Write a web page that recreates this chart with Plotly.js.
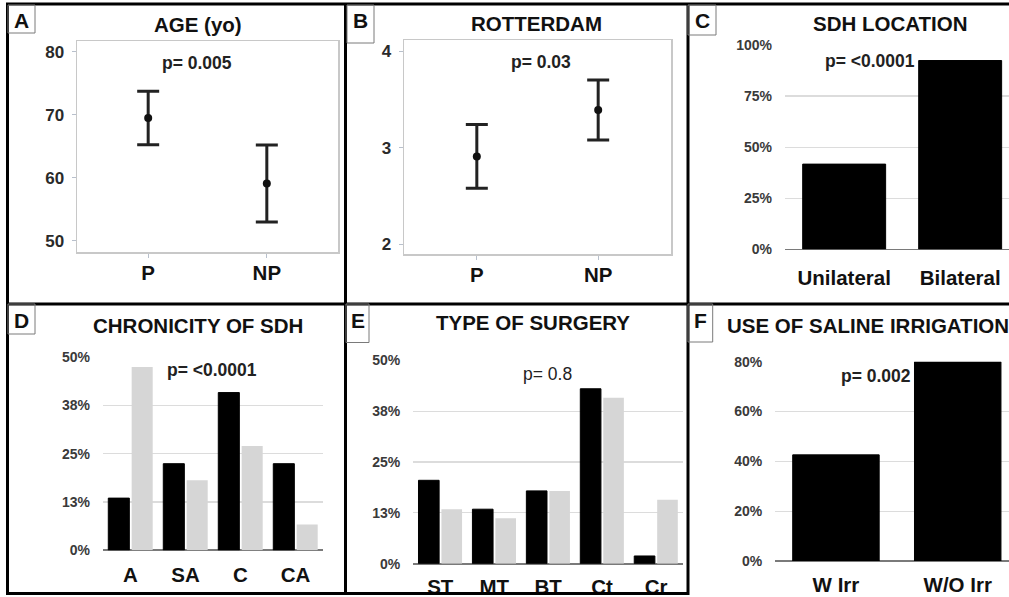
<!DOCTYPE html>
<html>
<head>
<meta charset="utf-8">
<script src="https://cdn.plot.ly/plotly-3.0.1.min.js"></script>
<style>html,body{margin:0;padding:0;background:#fff;}#chart{width:1009px;height:597px;}</style>
</head>
<body>
<div id="chart"></div>
<script>
// ---------- data ----------
const ageCats = ['P', 'NP'];
const ageMean = [69.5, 59.1];
const ageErr = [4.25, 6.1];

const rotCats = ['P', 'NP'];
const rotMean = [2.91, 3.39];
const rotErr = [0.33, 0.31];

const locCats = ['Unilateral', 'Bilateral'];
const locPct = [0.417, 0.924];

const chronCats = ['A', 'SA', 'C', 'CA'];
const chronP = [0.135, 0.224, 0.408, 0.224];
const chronNP = [0.474, 0.181, 0.270, 0.067];

const surgCats = ['ST', 'MT', 'BT', 'Ct', 'Cr'];
const surgP = [0.205, 0.134, 0.179, 0.430, 0.019];
const surgNP = [0.134, 0.112, 0.179, 0.408, 0.157];

const irrCats = ['W Irr', 'W/O Irr'];
const irrPct = [0.426, 0.800];

const pct4Vals = [0, 0.25, 0.5, 0.75, 1.0];
const pct4Text = ['0%', '25%', '50%', '75%', '100%'];
const pct8Vals = [0, 0.125, 0.25, 0.375, 0.5];
const pct8Text = ['0%', '13%', '25%', '38%', '50%'];
const pct20Vals = [0, 0.2, 0.4, 0.6, 0.8];
const pct20Text = ['0%', '20%', '40%', '60%', '80%'];

const panelTitles = ['AGE (yo)', 'ROTTERDAM', 'SDH LOCATION', 'CHRONICITY OF SDH', 'TYPE OF SURGERY', 'USE OF SALINE IRRIGATION'];
const panelLetters = ['A', 'B', 'C', 'D', 'E', 'F'];
const pTexts = ['p= 0.005', 'p= 0.03', 'p= <0.0001', 'p= <0.0001', 'p= 0.8', 'p= 0.002'];

// ---------- geometry helpers (pixel -> paper) ----------
const W = 1009, H = 597;
const px = v => v / W;
const py = v => 1 - v / H;
const dx = (a, b) => [px(a), Math.min(1, px(b))];
const dy = (top, bot) => [py(bot), py(top)];

const FONT = 'Liberation Sans, Arial, Helvetica, sans-serif';
const BLACK = '#000000';
const GREY = '#d6d6d6';

const traces = [
  { type: 'scatter', mode: 'markers', x: ageCats, y: ageMean, xaxis: 'x', yaxis: 'y',
    marker: { color: '#111', size: 8 },
    error_y: { type: 'data', array: ageErr, visible: true, color: '#222', thickness: 3, width: 11 } },
  { type: 'scatter', mode: 'markers', x: rotCats, y: rotMean, xaxis: 'x2', yaxis: 'y2',
    marker: { color: '#111', size: 8 },
    error_y: { type: 'data', array: rotErr, visible: true, color: '#222', thickness: 3, width: 11 } },
  { type: 'bar', x: locCats, y: locPct, xaxis: 'x3', yaxis: 'y3', width: 0.715,
    marker: { color: BLACK, line: { color: '#000', width: 1 } } },
  { type: 'bar', x: chronCats, y: chronP, xaxis: 'x4', yaxis: 'y4',
    marker: { color: BLACK, line: { color: '#000', width: 1 } } },
  { type: 'bar', x: chronCats, y: chronNP, xaxis: 'x4', yaxis: 'y4',
    marker: { color: GREY, line: { width: 0 } } },
  { type: 'bar', x: surgCats, y: surgP, xaxis: 'x5', yaxis: 'y5',
    marker: { color: BLACK, line: { color: '#000', width: 1 } } },
  { type: 'bar', x: surgCats, y: surgNP, xaxis: 'x5', yaxis: 'y5',
    marker: { color: GREY, line: { width: 0 } } },
  { type: 'bar', x: irrCats, y: irrPct, xaxis: 'x6', yaxis: 'y6', width: 0.71,
    marker: { color: BLACK, line: { color: '#000', width: 1 } } }
];

const catFont = { family: FONT, size: 20.5, color: '#111', weight: 700 };
const tickFontAB = { family: FONT, size: 17, color: '#2a2a2a', weight: 700 };
const tickFontPct = { family: FONT, size: 14, color: '#3a3a3a', weight: 700 };

function framedX(dom, anchor) {
  return { domain: dom, anchor: anchor, type: 'category', range: [-0.6, 1.6],
    showline: true, mirror: true, linecolor: '#c8c8c8', linewidth: 1.5,
    ticks: 'outside', ticklen: 4, tickcolor: '#b8c0cc', tickwidth: 1,
    showgrid: false, zeroline: false, tickfont: catFont, ticklabelstandoff: -2, fixedrange: true };
}
function framedY(dom, anchor, range, vals) {
  return { domain: dom, anchor: anchor, range: range, tickvals: vals,
    showline: true, mirror: true, linecolor: '#c8c8c8', linewidth: 1.5,
    ticks: 'outside', ticklen: 4, tickcolor: '#b8c0cc', tickwidth: 1,
    showgrid: false, zeroline: false, tickfont: tickFontAB, ticklabelstandoff: 4, fixedrange: true };
}
function barX(dom, anchor, range, standoff) {
  return { domain: dom, anchor: anchor, type: 'category', range: range,
    showline: false, ticks: '', showgrid: false, zeroline: false,
    tickfont: catFont, ticklabelstandoff: standoff, fixedrange: true };
}
function barY(dom, anchor, range, vals, text) {
  return { domain: dom, anchor: anchor, range: range, tickvals: vals, ticktext: text,
    showline: false, ticks: '', showgrid: true, gridcolor: '#dcdcdc', gridwidth: 1.2,
    zeroline: true, zerolinecolor: '#7a7a7a', zerolinewidth: 1.6,
    tickfont: tickFontPct, ticklabelstandoff: 12, fixedrange: true };
}

const layout = {
  width: W, height: H, autosize: false,
  margin: { l: 0, r: 0, t: 0, b: 0, pad: 0 },
  paper_bgcolor: '#ffffff', plot_bgcolor: '#ffffff',
  showlegend: false, barmode: 'group', bargap: 0.15, bargroupgap: 0.1,
  font: { family: FONT },
  xaxis: framedX(dx(77, 338), 'y'),
  yaxis: framedY(dy(41, 252), 'x', [48.25, 81.7], [50, 60, 70, 80]),
  xaxis2: framedX(dx(404, 671), 'y2'),
  yaxis2: framedY(dy(40, 254), 'x2', [1.9, 4.114], [2, 3, 4]),
  xaxis3: barX(dx(785, 1009), 'y3', [-0.51, 1.421], 14),
  yaxis3: barY(dy(45, 249.3), 'x3', [0, 1.0], pct4Vals, pct4Text),
  xaxis4: barX(dx(103, 323), 'y4', [-0.5, 3.5], 10),
  yaxis4: barY(dy(357, 550.3), 'x4', [0, 0.5], pct8Vals, pct8Text),
  xaxis5: barX(dx(413.3, 683), 'y5', [-0.5, 4.5], 9),
  yaxis5: barY(dy(360.3, 563.7), 'x5', [0, 0.5], pct8Vals, pct8Text),
  xaxis6: barX(dx(775.3, 1009), 'y6', [-0.498, 1.421], 9),
  yaxis6: barY(dy(361.7, 561), 'x6', [0, 0.8], pct20Vals, pct20Text),
  shapes: [],
  annotations: []
};

// panel frames (black borders)
const bl = { color: '#000', width: 3 };
const lineShape = (x0, y0, x1, y1, line) => ({ type: 'line', xref: 'paper', yref: 'paper',
  x0: px(x0), y0: py(y0), x1: px(x1), y1: py(y1), line: line, layer: 'above' });
layout.shapes.push(lineShape(6, 4, 1009, 4, bl));
layout.shapes.push(lineShape(7.5, 3, 7.5, 595, bl));
layout.shapes.push(lineShape(6, 593.5, 688, 593.5, bl));
layout.shapes.push(lineShape(345.5, 3, 345.5, 595, bl));
layout.shapes.push(lineShape(688, 3, 688, 595, bl));
layout.shapes.push(lineShape(6, 304, 1009, 304, bl));

// letter boxes
const boxes = [[8, 5, 35, 33], [347, 5, 374, 43], [688, 5, 716, 35], [8, 304, 35, 334], [346, 304, 369, 342.5], [688, 304, 712.7, 342]];
boxes.forEach((b, i) => {
  layout.shapes.push({ type: 'rect', xref: 'paper', yref: 'paper',
    x0: px(b[0]), y0: py(b[3]), x1: px(b[2]), y1: py(b[1]),
    line: { color: '#7a7a7a', width: 1 }, fillcolor: 'rgba(0,0,0,0)', layer: 'above' });
  layout.annotations.push({ xref: 'paper', yref: 'paper', x: px((b[0] + b[2]) / 2), y: py(i < 3 ? 20 : 320),
    text: panelLetters[i], showarrow: false, xanchor: 'center', yanchor: 'middle',
    font: { family: FONT, size: 21, color: '#111', weight: 700 } });
});

// titles
const titlePos = [[198, 25, 'center'], [536, 23, 'center'], [890, 24, 'center'], [198, 325.3, 'center'], [532.7, 322.7, 'center'], [725, 325.3, 'left']];
titlePos.forEach((t, i) => {
  layout.annotations.push({ xref: 'paper', yref: 'paper', x: px(t[0]), y: py(t[1]),
    text: panelTitles[i], showarrow: false, xanchor: t[2], yanchor: 'middle',
    font: { family: FONT, size: 20.5, color: '#111', weight: 700 } });
});

// p-values
const pPos = [[197, 63, 700], [541, 62, 700], [870, 61, 700], [211.7, 370, 700], [547.7, 374.3, 400], [876, 376, 700]];
pPos.forEach((p, i) => {
  layout.annotations.push({ xref: 'paper', yref: 'paper', x: px(p[0]), y: py(p[1]),
    text: pTexts[i], showarrow: false, xanchor: 'center', yanchor: 'middle',
    font: { family: FONT, size: 17.5, color: '#222', weight: p[2] } });
});

Plotly.newPlot('chart', traces, layout, { staticPlot: true, displayModeBar: false });
</script>
</body>
</html>
